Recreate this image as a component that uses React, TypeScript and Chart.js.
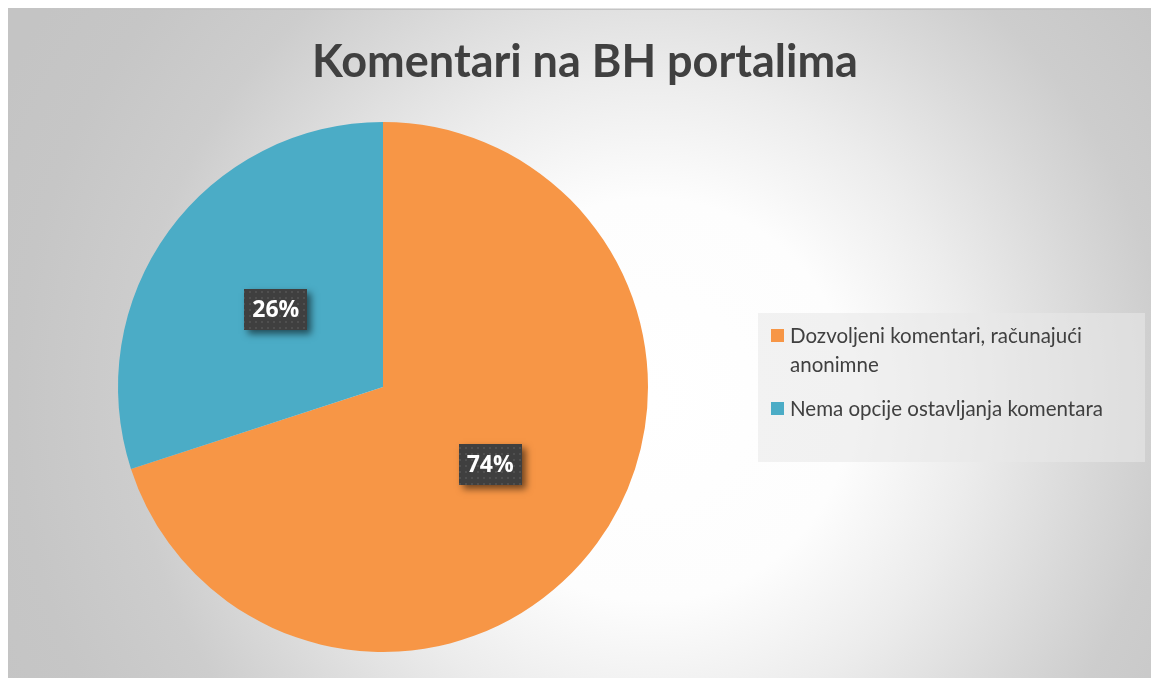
import React, { useEffect, useRef } from "react";
import { Chart, registerables } from "chart.js";

Chart.register(...registerables);

const chartTitle = "Komentari na BH portalima";
const categories = [
  "Dozvoljeni komentari, računajući anonimne",
  "Nema opcije ostavljanja komentara",
];
// slice sizes as drawn in the reference picture
const sliceValues = [70, 30];
// percentage labels as printed on the reference picture
const percentLabels = ["74%", "26%"];
const sliceColors = ["#F79646", "#4BACC6"];

const W = 1143;
const H = 670;

function makePattern(ctx: CanvasRenderingContext2D) {
  const c = document.createElement("canvas");
  c.width = 6;
  c.height = 6;
  const p = c.getContext("2d")!;
  p.fillStyle = "#3f3f3f";
  p.fillRect(0, 0, 6, 6);
  p.fillStyle = "#4f4f4f";
  p.fillRect(1, 1, 2, 2);
  return ctx.createPattern(c, "repeat")!;
}

function wrap(ctx: CanvasRenderingContext2D, text: string, maxW: number) {
  const words = text.split(" ");
  const lines: string[] = [];
  let cur = "";
  for (const w of words) {
    const t = cur ? cur + " " + w : w;
    if (ctx.measureText(t).width > maxW && cur) {
      lines.push(cur);
      cur = w;
    } else cur = t;
  }
  if (cur) lines.push(cur);
  return lines;
}

const backgroundPlugin = {
  id: "bgPlugin",
  beforeDraw(chart: any) {
    const ctx = chart.ctx as CanvasRenderingContext2D;
    ctx.save();
    const g = ctx.createRadialGradient(642, 392, 0, 642, 392, 720);
    g.addColorStop(0, "#ffffff");
    g.addColorStop(0.28, "#fdfdfd");
    g.addColorStop(0.45, "#ececec");
    g.addColorStop(0.62, "#d8d8d8");
    g.addColorStop(0.72, "#cdcdcd");
    g.addColorStop(0.88, "#c6c6c6");
    g.addColorStop(1, "#c4c4c4");
    ctx.fillStyle = g;
    ctx.fillRect(0, 0, chart.width, chart.height);
    ctx.strokeStyle = "#c4c4c4";
    ctx.lineWidth = 1;
    ctx.strokeRect(0.5, 1.5, chart.width + 10, chart.height + 10);
    ctx.restore();
  },
  afterDraw(chart: any) {
    const ctx = chart.ctx as CanvasRenderingContext2D;
    ctx.save();
    // title
    ctx.fillStyle = "#404040";
    ctx.font = "bold 45px Lato";
    ctx.textAlign = "center";
    ctx.textBaseline = "alphabetic";
    ctx.fillText(chartTitle, 577, 69);

    // legend box
    ctx.fillStyle = "rgba(232,232,232,0.57)";
    ctx.fillRect(750, 305, 387, 149);
    ctx.font = "20.5px Lato";
    ctx.textAlign = "left";
    let baseline = 335;
    categories.forEach((cat, i) => {
      ctx.fillStyle = sliceColors[i];
      ctx.fillRect(763, baseline - 14, 13, 13);
      ctx.fillStyle = "#404040";
      const lines = wrap(ctx, cat, 352);
      lines.forEach((ln, j) => {
        ctx.fillText(ln, 782, baseline + j * 29);
      });
      baseline += lines.length * 29 + 15;
    });

    // data labels
    const meta = chart.getDatasetMeta(0);
    const pattern = makePattern(ctx);
    meta.data.forEach((arc: any, i: number) => {
      const pt = arc.getCenterPoint();
      const bw = 63;
      const bh = 41;
      const x = Math.round(pt.x - bw / 2);
      const y = Math.round(pt.y - bh / 2);
      ctx.save();
      ctx.shadowColor = "rgba(0,0,0,0.55)";
      ctx.shadowBlur = 7;
      ctx.shadowOffsetX = 4;
      ctx.shadowOffsetY = 4;
      ctx.fillStyle = "#404040";
      ctx.fillRect(x, y, bw, bh);
      ctx.restore();
      ctx.fillStyle = pattern;
      ctx.fillRect(x, y, bw, bh);
      ctx.fillStyle = "#ffffff";
      ctx.font = "bold 23px 'Open Sans'";
      ctx.textAlign = "center";
      ctx.textBaseline = "middle";
      ctx.fillText(percentLabels[i], pt.x, pt.y + 1);
    });
    ctx.restore();
  },
};

export default function App() {
  const ref = useRef<HTMLCanvasElement | null>(null);
  useEffect(() => {
    document.body.style.margin = "8px 0 0 8px";
    document.body.style.overflow = "hidden";
    const chart = new Chart(ref.current!, {
      type: "pie",
      data: {
        labels: categories,
        datasets: [
          {
            data: sliceValues,
            backgroundColor: sliceColors,
            borderWidth: 0,
          },
        ],
      },
      options: {
        animation: false,
        responsive: false,
        events: [],
        layout: { padding: { left: 110, right: 503, top: 114, bottom: 26 } },
        plugins: {
          legend: { display: false },
          title: { display: false },
          tooltip: { enabled: false },
        },
      },
      plugins: [backgroundPlugin],
    });
    return () => chart.destroy();
  }, []);
  return (
    <div style={{ width: W, height: H }}>
      <canvas ref={ref} width={W} height={H} style={{ display: "block" }} />
    </div>
  );
}
